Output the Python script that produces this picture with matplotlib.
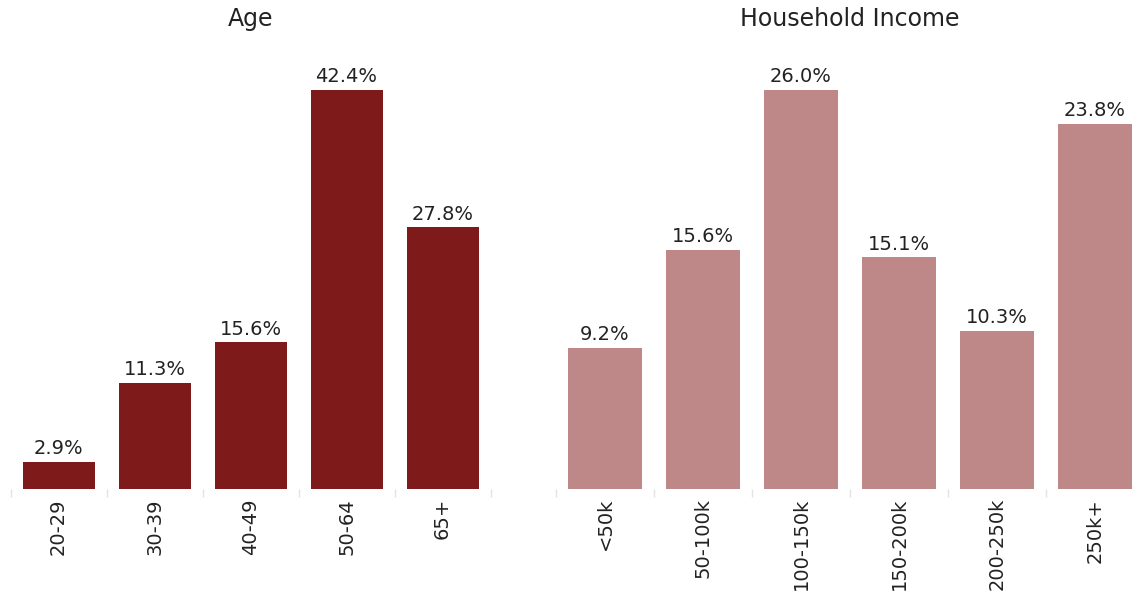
import matplotlib
matplotlib.use("Agg")
import matplotlib.pyplot as plt
import numpy as np

age_labels = ["20-29", "30-39", "40-49", "50-64", "65+"]
age_values = [2.9, 11.3, 15.6, 42.4, 27.8]
income_labels = ["<50k", "50-100k", "100-150k", "150-200k", "200-250k", "250k+"]
income_values = [9.2, 15.6, 26.0, 15.1, 10.3, 23.8]

W, H = 1140, 593
fig = plt.figure(figsize=(W / 100, H / 100), dpi=100)
plt.rcParams['font.family'] = ['DejaVu Sans']
TXT = '#222222'

def px_axes(x0, x1, ytop, ybot):
    return fig.add_axes([x0 / W, 1 - ybot / H, (x1 - x0) / W, (ybot - ytop) / H])

def draw(ax, labels, values, color, title, xc):
    n = len(labels)
    x = np.arange(n)
    ax.bar(x, values, width=0.75, color=color, edgecolor='none')
    ax.set_xlim(-0.5, n - 0.5)
    ax.set_ylim(0, max(values))
    for xi, v in zip(x, values):
        ax.annotate(f"{v:.1f}%", (xi, v), xytext=(0, 5.5), textcoords='offset points',
                    ha='center', va='baseline', fontsize=14, color=TXT,
                    clip_on=False)
    for s in ax.spines.values():
        s.set_visible(False)
    ax.set_yticks([])
    ax.set_xticks(x)
    ax.set_xticklabels(labels, rotation=90, fontsize=14, color=TXT, va='top')
    ax.tick_params(axis='x', which='major', length=0, pad=6.5)
    ax.set_xticks(np.arange(-0.5, n, 1.0), minor=True)
    ax.tick_params(axis='x', which='minor', length=6, color='#e3e3e3', width=1)
    fig.text(xc / W, 1 - 26 / H, title, fontsize=17, color=TXT,
             ha='center', va='baseline')

ax1 = px_axes(10.5, 490.5, 90, 489)
draw(ax1, age_labels, age_values, '#7f1a1b', 'Age', 250.5)
ax2 = px_axes(556, 1144, 90, 489)
draw(ax2, income_labels, income_values, '#bf8888', 'Household Income', 850)

fig.savefig("out.png", dpi=100)
